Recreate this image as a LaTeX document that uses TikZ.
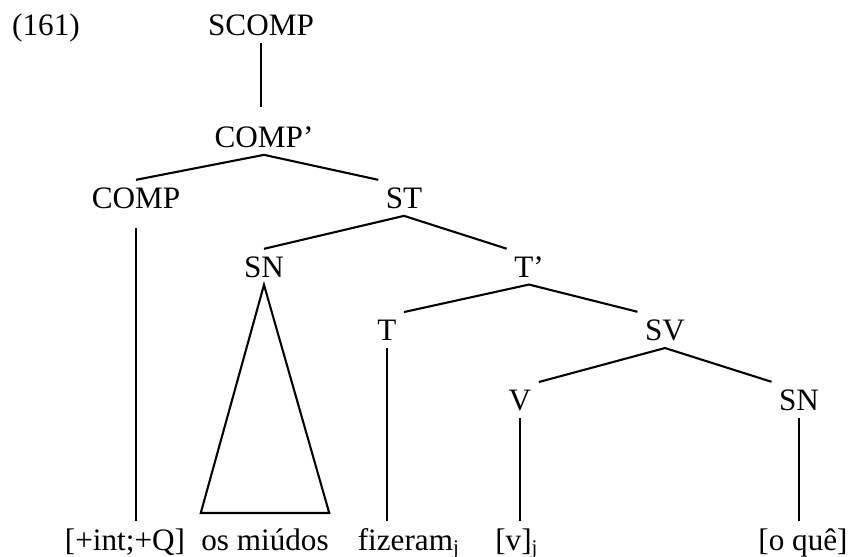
\documentclass[tikz,border=0pt]{standalone}
\usepackage{fontspec}
\setmainfont{Liberation Serif}

\begin{document}
\begin{tikzpicture}[
	  x=0.3846pt, y=-0.3846pt,
	  cat/.style={anchor=base, inner sep=2.7pt, font=\fontsize{12}{14}\selectfont},
	  leaf/.style={cat, inner xsep=0pt},
	]
	\useasboundingbox (0,0) rectangle (848,556);
	
	% Example number
	\node[cat] (num) at (46,35) {(161)};
	
	% Upper part of the tree
	\node[cat] (scomp) at (261,35) {SCOMP};
	\node[cat] (compbar) at (264,147) {COMP’};
	\node[cat] (comp) at (136,208) {COMP};
	\node[cat] (st) at (404,208) {ST};
	\node[cat] (sn) at (264,277) {SN};
	\node[cat] (tbar) at (529,277) {T’};
	\node[cat] (t) at (387,340) {T};
	\node[cat] (sv) at (665,340) {SV};
	\node[cat] (v) at (520,410) {V};
	\node[cat] (obj) at (799,410) {SN};
	
	% Terminal string
	\node[leaf] (feat) at (125,550) {[+int;+Q]};
	\node[leaf] (miudos) at (265,550) {os miúdos};
	\node[leaf] (fizeram) at (409,550) {fizeram\textsubscript{j}};
	\node[leaf] (vtrace) at (517,550) {[v]\textsubscript{j}};
	\node[leaf] (oque) at (803,550) {[o quê]};
	
	% Branches
	\draw[thick] (scomp.south) -- ([yshift=4.5pt]scomp.south |- compbar.north);
	\draw[thick] (comp.north) -- (compbar.south) -- (st.north west);
	\draw[thick] (sn.north) -- (st.south) -- (tbar.north west);
	\draw[thick] (t.north east) -- (tbar.south) -- (sv.north west);
	\draw[thick] (v.north east) -- (sv.south) -- (obj.north west);
	
	% Lines down to the terminals
	\draw[thick] ([yshift=-4.5pt]comp.south) -- (comp.south |- feat.north);
	\draw[thick] (t.south) -- (t.south |- fizeram.north);
	\draw[thick] (v.south) -- (v.south |- vtrace.north);
	\draw[thick] (obj.south) -- (obj.south |- oque.north);
	
	% Triangle over the subject
	\draw[thick] (sn.south) -- ([yshift=3pt]miudos.north west) -- ([yshift=3pt]miudos.north east) -- cycle;
	
\end{tikzpicture}
\end{document}
